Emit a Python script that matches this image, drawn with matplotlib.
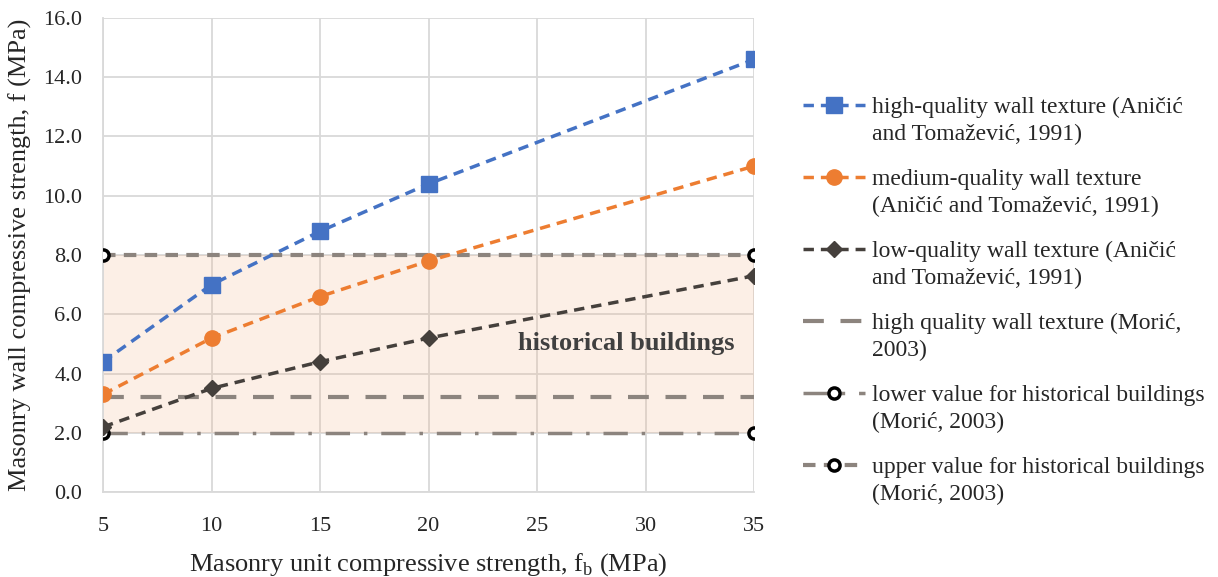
import matplotlib
matplotlib.use('Agg')
import matplotlib.pyplot as plt
import numpy as np
from matplotlib.ticker import FormatStrFormatter

plt.rcParams['font.family'] = ['Liberation Serif', 'DejaVu Serif']

# 数据
fb = [5, 10, 15, 20, 35]
high_q = [4.4, 7.0, 8.8, 10.4, 14.6]
medium_q = [3.3, 5.2, 6.6, 7.8, 11.0]
low_q = [2.2, 3.5, 4.4, 5.2, 7.3]
ends = [5, 35]
moric_high = [3.2, 3.2]
lower_val = [2.0, 2.0]
upper_val = [8.0, 8.0]

labels = ['high-quality wall texture (Aničić\nand Tomažević, 1991)',
          'medium-quality wall texture\n(Aničić and Tomažević, 1991)',
          'low-quality wall texture (Aničić\nand Tomažević, 1991)',
          'high quality wall texture (Morić,\n2003)',
          'lower value for historical buildings\n(Morić, 2003)',
          'upper value for historical buildings\n(Morić, 2003)']

fig = plt.figure(figsize=(12.18, 5.77), dpi=100)
ax = fig.add_axes([0.0846, 0.147, 0.5345, 0.822])

# 历史建筑区域
ax.fill_between(ends, lower_val, upper_val, color='#F4B183', alpha=0.2, lw=0, zorder=1)

ax.plot(fb, high_q, ls='--', color='#4472C4', lw=2.5, marker='s', ms=11,
        dashes=(3, 2), label=labels[0], zorder=5)
ax.plot(fb, medium_q, ls='--', color='#ED7D31', lw=2.5, marker='o', ms=11,
        dashes=(3, 2), label=labels[1], zorder=5)
ax.plot(fb, low_q, ls='--', color='#45403C', lw=2.5, marker='D', ms=8.5,
        dashes=(3, 2), label=labels[2], zorder=5)
ax.plot(ends, moric_high, color='#8C847E', lw=3, dashes=(5, 4),
        label=labels[3], zorder=4)
ax.plot(ends, lower_val, color='#8C847E', lw=2.5, dashes=(7, 4, 1, 4),
        marker='o', ms=8, mfc='white', mec='black', mew=2.5,
        label=labels[4], zorder=4)
ax.plot(ends, upper_val, color='#8C847E', lw=3, dashes=(3, 2),
        marker='o', ms=8, mfc='white', mec='black', mew=2.5,
        label=labels[5], zorder=4)

ax.text(29.1, 5.0, 'historical buildings', fontsize=19, fontweight='bold',
        color='#404040', ha='center', va='center', zorder=6)

ax.set_xlim(5, 35)
ax.set_ylim(0, 16)
ax.set_xticks(range(5, 36, 5))
ax.set_yticks(np.arange(0, 16.1, 2))
ax.yaxis.set_major_formatter(FormatStrFormatter('%.1f'))
ax.tick_params(length=0, labelsize=16, colors='#262626')
ax.tick_params(axis='x', pad=18)
ax.tick_params(axis='y', pad=15)
ax.grid(True, color='#D9D9D9', lw=1.3, zorder=0)
ax.set_axisbelow(True)
for s in ['top', 'right']:
    ax.spines[s].set_visible(False)
for s in ['left', 'bottom']:
    ax.spines[s].set_color('#D9D9D9')
    ax.spines[s].set_linewidth(1.3)

ax.set_xlabel('Masonry unit compressive strength, f$_\\mathregular{b}$ (MPa)', fontsize=19,
              labelpad=11, color='#262626')
ax.set_ylabel('Masonry wall compressive strength, f (MPa)', fontsize=19,
              labelpad=8, color='#262626')

leg = ax.legend(loc='upper left', bbox_to_anchor=(0.659, 0.833),
                bbox_transform=fig.transFigure, frameon=False,
                fontsize=17, handlelength=2.65, handletextpad=0.3,
                labelspacing=0.99, borderpad=0, borderaxespad=0,
                labelcolor='#262626')
for t in leg.get_texts():
    t.set_linespacing(1.4)
# 图例标记与第一行文字对齐
for col in leg._legend_handle_box.get_children():
    for row in col.get_children():
        row.align = 'top'

fig.savefig('out.png', dpi=100)
